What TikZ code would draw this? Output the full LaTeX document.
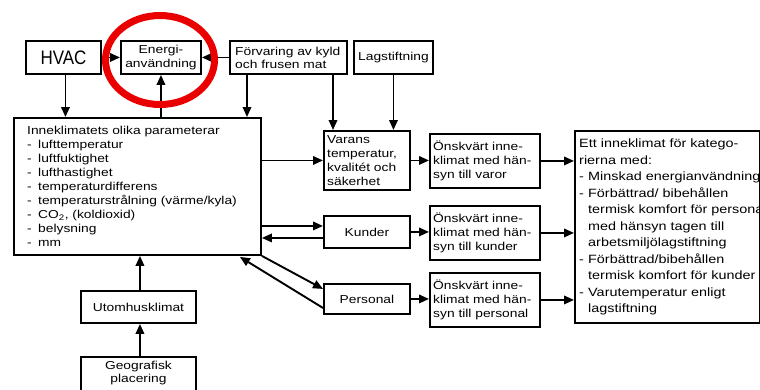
\documentclass[tikz,border=0pt]{standalone}
\usepackage{fontspec}
\setmainfont{Liberation Sans}[FakeStretch=1.2]
\newfontfamily\hvacfont{Liberation Sans}[FakeStretch=0.87]
\usetikzlibrary{arrows.meta}
\newcommand\dashitem{\makebox[11pt][l]{-}}
\newcommand\rdash{\makebox[9pt][l]{-}}
\newcommand\rind{\hspace*{9pt}}
\begin{document}
\begin{tikzpicture}[x=1pt,y=-1pt,
  box/.style={draw, line width=1.9pt, inner sep=0pt, anchor=north west, align=center,
              font=\fontsize{11.5}{14}\selectfont},
  txt/.style={inner sep=0pt, align=left, anchor=west, font=\fontsize{11.5}{14}\selectfont},
  arr/.style={line width=1.9pt, -{Triangle[length=10pt,width=8.5pt]}},
]
\clip (0,0) rectangle (760,389);

% top row
\node[box, minimum width=75pt, minimum height=33pt, font=\hvacfont\fontsize{19.5}{20}\selectfont] (hvac) at (25,40) {HVAC};
\node[box, minimum width=80pt, minimum height=33pt] (energi) at (120,40) {Energi-\\användning};
\node[box, minimum width=117pt, minimum height=33pt] (forv) at (229,40) {};
\node[txt, font=\fontsize{11.5}{13}\selectfont] (forvtext) at ([xshift=6pt]forv.west) {Förvaring av kyld\\och frusen mat};
\node[box, minimum width=79pt, minimum height=33pt] (lag) at (353,40) {Lagstiftning};

% indoor climate parameters
\node[box, minimum width=247pt, minimum height=137pt] (inne) at (13,117) {};
\node[txt] (innetext) at ([xshift=14pt]inne.west) {Inneklimatets olika parameterar\\
  \dashitem lufttemperatur\\
  \dashitem luftfuktighet\\
  \dashitem lufthastighet\\
  \dashitem temperaturdifferens\\
  \dashitem temperaturstrålning (värme/kyla)\\
  \dashitem CO\textsubscript{2}, (koldioxid)\\
  \dashitem belysning\\
  \dashitem mm};

% middle column
\node[box, minimum width=86pt, minimum height=59pt] (varans) at (323,130) {};
\node[txt] (varanstext) at ([xshift=4pt]varans.west) {Varans\\temperatur,\\kvalitét och\\säkerhet};
\node[box, minimum width=86pt, minimum height=32pt] (kunder) at (323,215) {Kunder};
\node[box, minimum width=86pt, minimum height=30pt] (personal) at (323,283) {Personal};

% desired indoor climate
\node[box, minimum width=110pt, minimum height=54pt] (onsk1) at (429,133) {};
\node[txt] (onsk1text) at ([xshift=4pt]onsk1.west) {Önskvärt inne-\\klimat med hän-\\syn till varor};
\node[box, minimum width=110pt, minimum height=54pt] (onsk2) at (429,205) {};
\node[txt] (onsk2text) at ([xshift=4pt]onsk2.west) {Önskvärt inne-\\klimat med hän-\\syn till kunder};
\node[box, minimum width=110pt, minimum height=54pt] (onsk3) at (429,272) {};
\node[txt] (onsk3text) at ([xshift=4pt]onsk3.west) {Önskvärt inne-\\klimat med hän-\\syn till personal};

% resulting indoor climate
\node[box, minimum width=185pt, minimum height=192pt] (result) at (574,130) {};
\node[txt, font=\fontsize{12}{16.5}\selectfont] (resulttext) at ([xshift=5pt]result.west) {Ett inneklimat för katego-\\
  rierna med:\\
  \rdash Minskad energianvändning\\
  \rdash Förbättrad/ bibehållen\\
  \rind termisk komfort för personal\\
  \rind med hänsyn tagen till\\
  \rind arbetsmiljölagstiftning\\
  \rdash Förbättrad/bibehållen\\
  \rind termisk komfort för kunder\\
  \rdash Varutemperatur enligt\\
  \rind lagstiftning};

% outdoor climate chain
\node[box, minimum width=115pt, minimum height=32pt] (utom) at (80,290) {Utomhusklimat};
\node[box, minimum width=115pt, minimum height=50pt] (geo) at (80,356) {};
\node[inner sep=0pt, align=center, anchor=north, font=\fontsize{11.5}{12.5}\selectfont] (geotext) at ([yshift=-5pt]geo.north) {Geografisk\\placering};

% connectors
\draw[arr] (hvac.east) -- (energi.west);
\draw[arr] (forv.west) -- (energi.east);
\draw[arr] ([xshift=2pt]hvac.south) -- ([xshift=2pt]hvac.south |- inne.north);
\draw[arr] (inne.north -| energi.south) -- (energi.south);
\draw[arr] ([xshift=18pt]forv.south west) -- ([xshift=18pt]forv.south west |- inne.north);
\draw[arr] ([xshift=104pt]forv.south west) -- ([xshift=104pt]forv.south west |- varans.north);
\draw[arr] (lag.south) -- (lag.south |- varans.north);

\draw[arr] (varans.west -| inne.east) -- (varans.west);
\draw[arr] ([yshift=6pt]kunder.west -| inne.east) -- ([yshift=6pt]kunder.west);
\draw[arr] ([yshift=-6pt]kunder.west) -- ([yshift=-6pt]kunder.west -| inne.east);
\draw[arr] (inne.south east) -- ([yshift=10pt]personal.west);
\draw[arr] ([yshift=-9pt]personal.west) -- ([xshift=-22pt,yshift=-1pt]inne.south east);

\draw[arr] (varans.east) -- (varans.east -| onsk1.west);
\draw[arr] (kunder.east) -- (kunder.east -| onsk2.west);
\draw[arr] (personal.east) -- (personal.east -| onsk3.west);
\draw[arr] (onsk1.east) -- (onsk1.east -| result.west);
\draw[arr] (onsk2.east) -- (onsk2.east -| result.west);
\draw[arr] (onsk3.east) -- (onsk3.east -| result.west);

\draw[arr] ([xshift=1.5pt]utom.north) -- ([xshift=1.5pt]utom.north |- inne.south);
\draw[arr] ([xshift=1.5pt]geo.north) -- ([xshift=1.5pt]utom.south);

% highlight ring
\draw[red!92!black, line width=7pt] (160,60) ellipse [x radius=54.5pt, y radius=44.5pt];
\end{tikzpicture}
\end{document}
